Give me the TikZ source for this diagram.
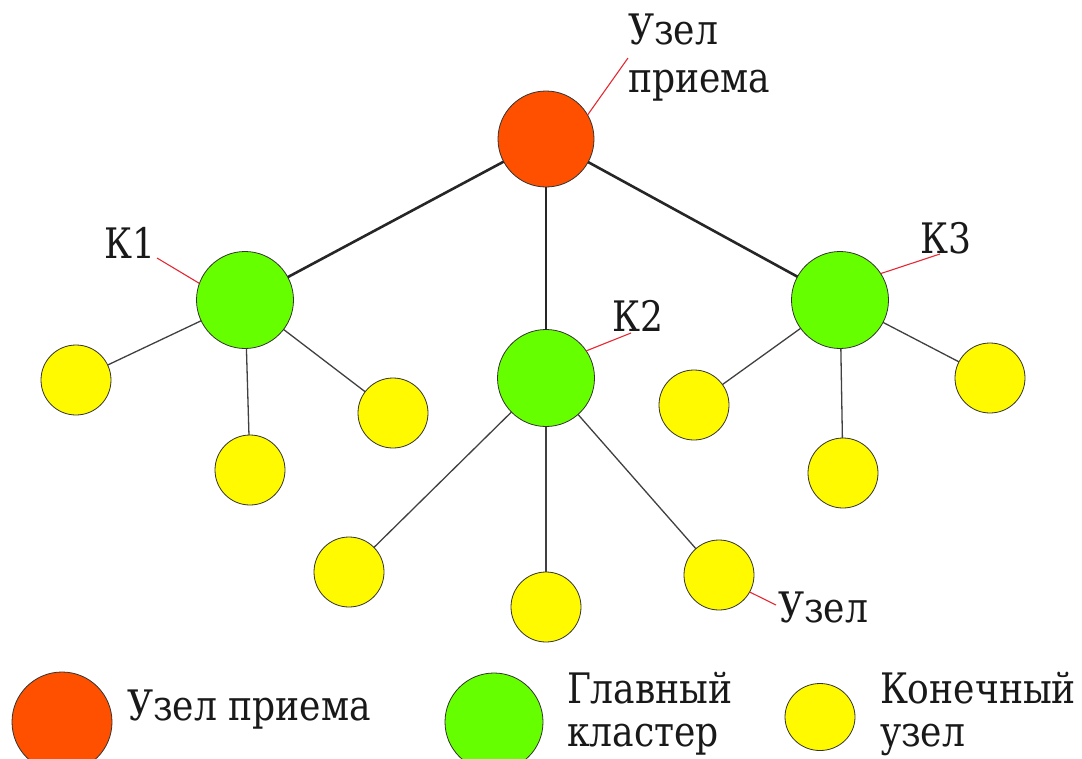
\documentclass[tikz,border=0pt]{standalone}
\usepackage{fontspec}
\usetikzlibrary{shapes.geometric}
\newfontfamily\lblfont{DejaVu Serif}[FakeStretch=0.86]
\begin{document}
\begin{tikzpicture}[x=1pt,y=-1pt,
  every node/.style={inner sep=0pt, outer sep=0pt},
  rootnode/.style={circle, draw=black!80, line width=0.8pt, fill=rootred, minimum size=96pt},
  clusternode/.style={circle, draw=black!80, line width=0.8pt, fill=clustergreen, minimum size=97pt},
  endnode/.style={circle, draw=black!80, line width=0.8pt, fill=endyellow, minimum size=70pt},
  trunk/.style={line width=2.6pt, black!85},
  branch/.style={line width=1.3pt, black!75},
  leader/.style={line width=1.1pt, leaderred},
  lbl/.style={font=\lblfont\fontsize{42}{48}\selectfont, align=left, text=black!90},
  legendlbl/.style={lbl, font=\lblfont\fontsize{42}{43}\selectfont},
]
\definecolor{rootred}{RGB}{255,80,0}
\definecolor{clustergreen}{RGB}{102,255,0}
\definecolor{endyellow}{RGB}{255,250,0}
\definecolor{leaderred}{RGB}{230,40,50}

\useasboundingbox (0,0) rectangle (1082,758);

% receiving node and the three cluster heads
\node[rootnode] (root) at (546,139) {};
\node[clusternode] (k1) at (245,300) {};
\node[clusternode] (k2) at (546,378) {};
\node[clusternode] (k3) at (840,300) {};

% end nodes
\node[endnode] (a1) at (76,380) {};
\node[endnode] (a2) at (250,470) {};
\node[endnode] (a3) at (393,413) {};
\node[endnode] (b1) at (349,572) {};
\node[endnode] (b2) at (546,607) {};
\node[endnode] (b3) at (719,575) {};
\node[endnode] (c1) at (694,405) {};
\node[endnode] (c2) at (843,473) {};
\node[endnode] (c3) at (990,378) {};

% links
\draw[trunk] (root) -- (k1);
\draw[trunk] (root) -- (k2);
\draw[trunk] (root) -- (k3);
\foreach \c/\e in {k1/a1,k1/a2,k1/a3,k2/b1,k2/b2,k2/b3,k3/c1,k3/c2,k3/c3}
  \draw[branch] (\c) -- (\e);

% labels with leader lines
\node[lbl, anchor=north west] (troot) at (628,14) {Узел\\приема};
\coordinate (lroot) at (628,58);
\draw[leader] (root.30) -- (lroot);

\node[lbl, anchor=center] (tk1) at (130,243) {К1};
\coordinate (lk1) at (157,258);
\draw[leader] (k1.160) -- (lk1);

\node[lbl, anchor=center] (tk2) at (638,316) {К2};
\coordinate (lk2) at (631,333);
\draw[leader] (k2.34) -- (lk2);

\node[lbl, anchor=center] (tk3) at (946,238) {К3};
\coordinate (lk3) at (940,254);
\draw[leader] (k3.33) -- (lk3);

\node[lbl, anchor=west] (tb3) at (778,607) {Узел};
\coordinate (lb3) at (776,605);
\draw[leader] (b3.-29) -- (lb3);

% legend
\node[rootnode, minimum size=100pt] (lgroot) at (62,722) {};
\node[lbl, anchor=west] (lgroott) at (127,710) {Узел приема};
\node[clusternode, minimum size=98pt] (lgcl) at (494,722) {};
\node[legendlbl, anchor=north west] (lgclt) at (567,672) {Главный\\кластер};
\node[endnode, ellipse, minimum width=70pt, minimum height=67pt] (lgend) at (820,717) {};
\node[legendlbl, anchor=north west] (lgendt) at (880,672) {Конечный\\узел};
\end{tikzpicture}
\end{document}
